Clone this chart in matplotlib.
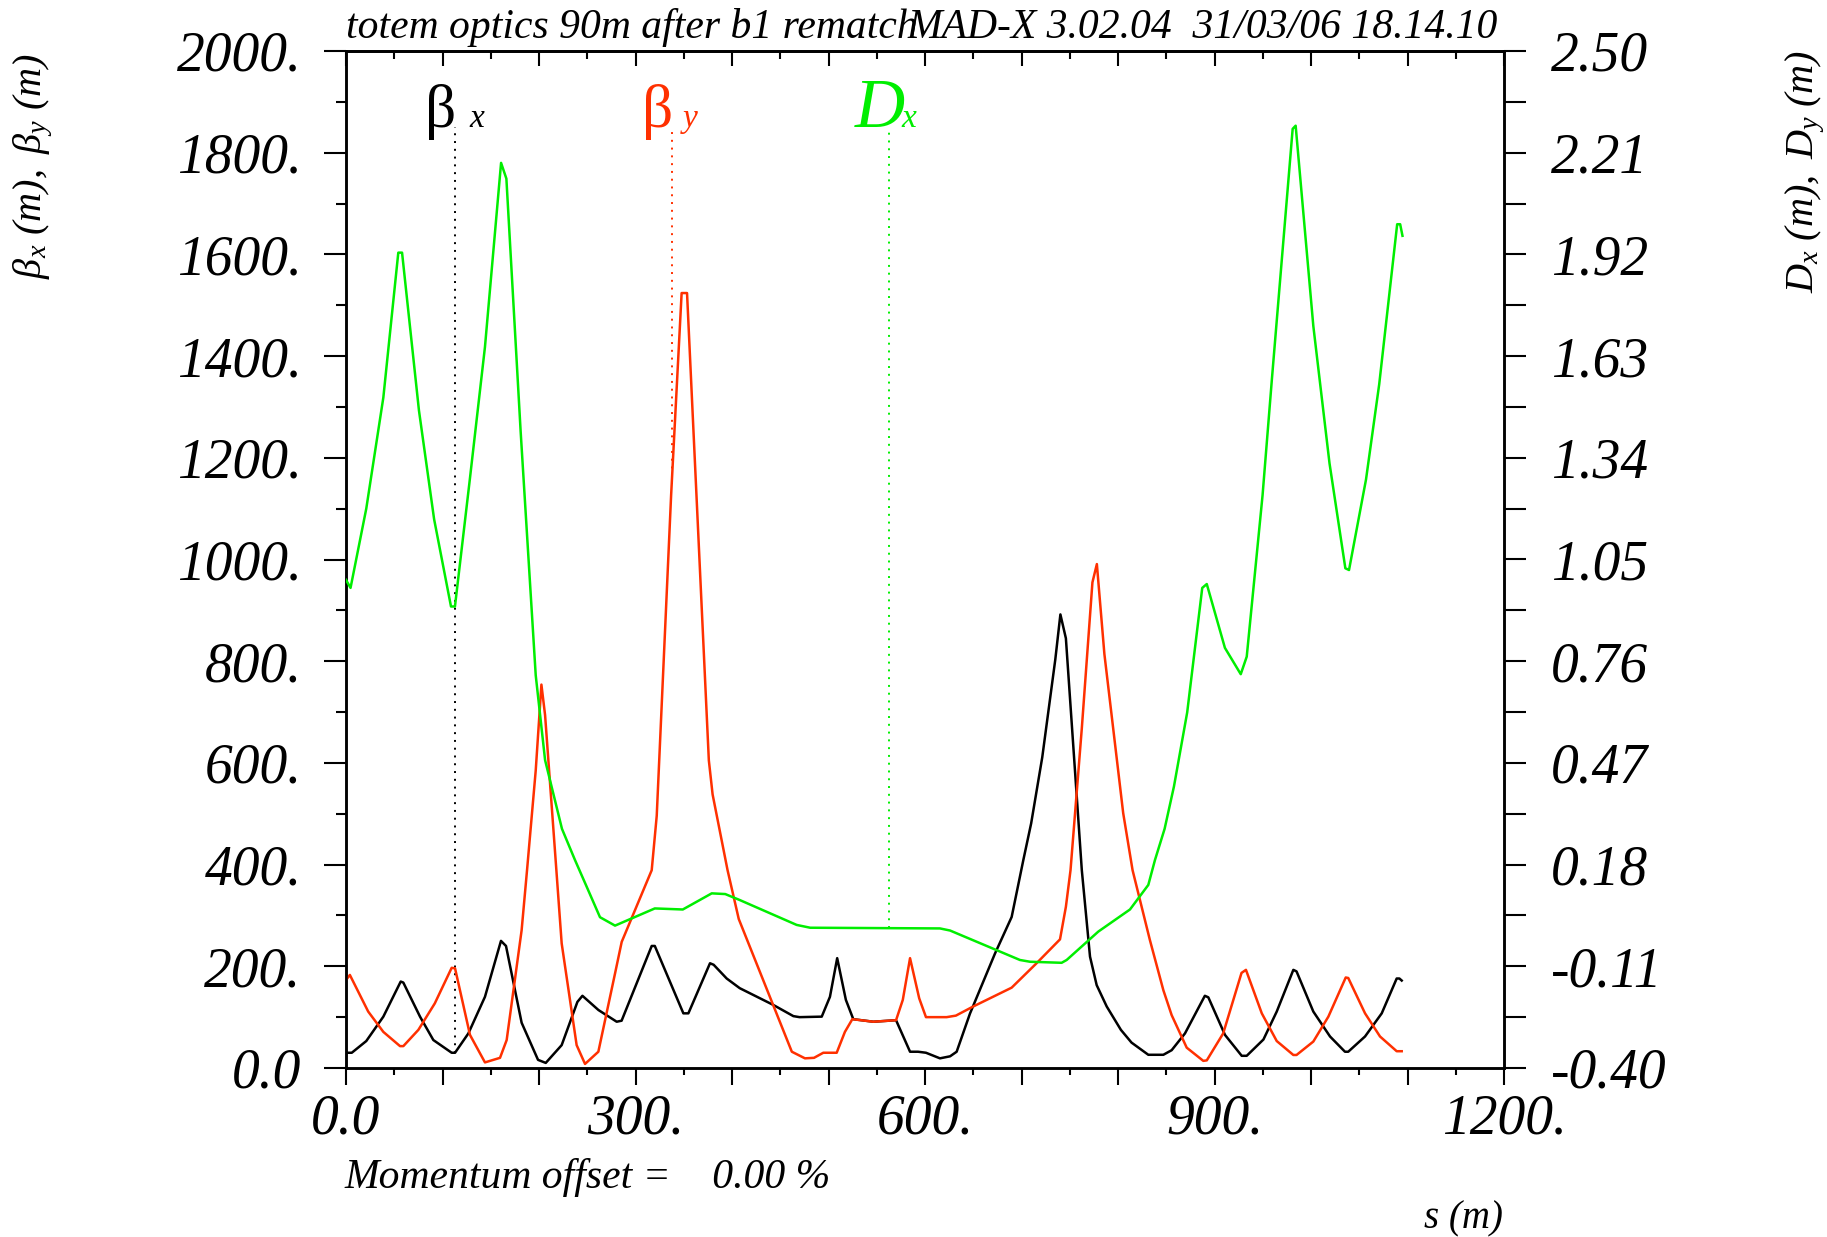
import numpy as np
import matplotlib
matplotlib.use("Agg")
import matplotlib.pyplot as plt
from matplotlib.ticker import MultipleLocator, FixedLocator, FuncFormatter
from matplotlib.transforms import offset_copy

# ---------------- data ----------------
s_bx = [0, 6, 21, 38.7, 56.7, 59.4, 76.7, 90.5, 109.5, 113, 126.8, 144, 160.6, 165.8, 182, 199, 207,
        223.5, 239.8, 245, 261.6, 280.5, 285.6, 316.8, 320, 349.6, 354.8, 377.2, 381, 394.5, 408,
        442.8, 463.6, 470, 493, 501.5, 509, 518, 525.7, 546.5, 570, 584.5, 592.8, 601, 615.5, 626,
        632.8, 646.6, 672.5, 689.8, 701.9, 710, 721.5, 735, 740.3, 746, 762.5, 771, 777.9, 788.3,
        803, 814, 831.4, 847, 855.6, 869.4, 890, 893.6, 910.9, 928.2, 933.4, 950.7, 964.5, 981.7,
        985, 1002.4, 1019.7, 1035.2, 1038.6, 1056, 1073.3, 1088.8, 1091.6, 1094]
betx = [30, 30, 53, 101, 170, 168, 101, 55, 30, 30, 68, 140, 250, 240, 89, 16, 10,
        45, 130, 142, 114, 91, 93, 240, 240, 107.5, 107.5, 206, 203, 176, 157,
        124, 102, 100, 101, 140, 216, 134, 96, 91, 94, 32, 32, 30, 19, 23,
        32, 107, 225, 297, 409, 481, 611, 803, 892, 845, 389, 219, 163, 121,
        75, 50, 26, 26, 35, 68, 142, 139, 65, 24, 24, 56, 111, 193,
        190, 111, 62, 32, 32, 62, 107.5, 176, 176, 172]

s_by = [0, 4, 23, 38.7, 56, 59.4, 75, 92, 109.5, 113, 128.5, 144, 159.6, 166.5, 182, 187.6, 196.6,
        202.5, 206.3, 218, 223.5, 239, 247.7, 261.5, 278.8, 285.7, 316.8, 322, 336.9, 347.8, 353.4,
        376, 379.9, 395.4, 407, 462, 475.6, 485, 494.6, 508.5, 517, 524.7, 546.5, 570, 577, 584.5,
        594, 601, 622.4, 632, 650, 689.8, 715.6, 739.9, 746, 750.8, 762.5, 773.5, 778.1, 785.9,
        805.4, 815.1, 833, 847, 855.6, 871.2, 888.4, 892, 909, 928, 932.6, 949, 964.5, 981.7, 985,
        1002.4, 1018, 1036, 1038.6, 1056, 1071.5, 1088.8, 1094]
bety = [173, 183, 111, 71, 43, 43, 75, 127, 197, 196, 65, 11, 20, 55, 271, 389, 585,
        754, 694, 389, 245, 45, 8, 32, 186, 248, 389, 496, 1126, 1524, 1524,
        605, 538, 389, 293, 32, 19, 20, 30, 30, 71, 96, 91, 94, 134, 216,
        137, 100, 100, 103, 121, 158, 206, 253, 317, 389, 668, 955, 991, 814,
        501, 389, 252, 153, 104, 40, 14, 15, 68, 187, 193, 107.5, 53, 25.6, 25.6,
        52, 101, 178, 177, 107.5, 62, 33, 33]

s_dx = [0, 4.7, 21, 38.7, 54.2, 58.1, 75.6, 91.3, 108.8, 112.9, 128.3, 144, 160.7, 166.2, 181,
        196.6, 206.3, 223.8, 237.3, 249.4, 263.2, 278.8, 320, 349, 379, 393, 408, 467, 481, 615.5,
        626, 698.4, 708.8, 741.6, 746.8, 779.6, 812.4, 831.4, 838.3, 848.3, 858, 871.7, 887.3, 892,
        910.8, 927.2, 933.4, 949.8, 959.5, 981, 984.1, 1002.4, 1019.2, 1035.6, 1039.4, 1057, 1070.7,
        1089.3, 1092.4, 1094.8]
dx = [0.992, 0.969, 1.195, 1.512, 1.925, 1.925, 1.475, 1.165, 0.916, 0.916, 1.278, 1.656, 2.181, 2.136, 1.414,
      0.720, 0.478, 0.282, 0.193, 0.117, 0.030, 0.006, 0.055, 0.052, 0.098, 0.096, 0.079, 0.008, 0.0, -0.002,
      -0.008, -0.092, -0.097, -0.100, -0.092, -0.011, 0.052, 0.122, 0.193, 0.282, 0.403, 0.614, 0.969, 0.98,
      0.798, 0.723, 0.773, 1.233, 1.565, 2.278, 2.287, 1.716, 1.324, 1.025, 1.02, 1.278, 1.55,
      2.006, 2.006, 1.973]

label_s = [112.5, 337.5, 562.5]          # positions of the curve labels
label_level = 1850                        # beta level of the label baseline
x_major_labels = [0, 300, 600, 900, 1200]
d_ticks = [-0.40, -0.11, 0.18, 0.47, 0.76, 1.05, 1.34, 1.63, 1.92, 2.21, 2.50]

B_MIN, B_MAX = 0, 2000
D_MIN, D_MAX = -0.40, 2.50

RED = "#ff3000"
GREEN = "#00ee00"

# ---------------- style ----------------
plt.rcParams["font.family"] = ["Liberation Serif", "DejaVu Serif"]
plt.rcParams["font.style"] = "italic"
plt.rcParams["mathtext.fontset"] = "custom"
plt.rcParams["mathtext.rm"] = "Liberation Serif"
plt.rcParams["mathtext.it"] = "Liberation Serif:italic"
plt.rcParams["mathtext.bf"] = "Liberation Serif:bold"

W, H = 1827, 1237
fig = plt.figure(figsize=(W / 100, H / 100), dpi=100)
L, R, T, B = 346, 1504, 51, 1068
ax = fig.add_axes([L / W, 1 - B / H, (R - L) / W, (B - T) / H])

LW = 1.8
ax.plot(s_bx, betx, color="black", lw=LW, zorder=3)
ax.plot(s_by, bety, color=RED, lw=LW, zorder=4)
ax.set_xlim(0, 1200)
ax.set_ylim(B_MIN, B_MAX)

ax2 = ax.twinx()
ax2.plot(s_dx, dx, color=GREEN, lw=LW, zorder=3)
ax2.set_ylim(D_MIN, D_MAX)

# ---------------- ticks ----------------
TICK_FS = 40
ax.xaxis.set_major_locator(MultipleLocator(100))
ax.xaxis.set_minor_locator(MultipleLocator(50))
ax.xaxis.set_major_formatter(FuncFormatter(
    lambda v, p: ("0.0" if abs(v) < 1e-9 else f"{v:.0f}.") if int(round(v)) in x_major_labels else ""))
ax.tick_params(axis="x", which="major", direction="out", length=12, width=1.5, pad=6,
               labelsize=TICK_FS, top=False)
ax.tick_params(axis="x", which="minor", direction="out", length=5, width=1.5, top=False)

ax.yaxis.set_major_locator(MultipleLocator(200))
ax.yaxis.set_minor_locator(MultipleLocator(100))
ax.yaxis.set_major_formatter(FuncFormatter(lambda v, p: "0.0" if abs(v) < 1e-9 else f"{v:.0f}."))
ax.tick_params(axis="y", which="major", direction="out", length=16, width=1.5, pad=16,
               labelsize=TICK_FS, right=False)
ax.tick_params(axis="y", which="minor", direction="out", length=7, width=1.5, right=False)

ax2.yaxis.set_major_locator(FixedLocator(d_ticks))
mids = [(a + b) / 2 for a, b in zip(d_ticks[:-1], d_ticks[1:])]
ax2.yaxis.set_minor_locator(FixedLocator(mids))
ax2.yaxis.set_major_formatter(FuncFormatter(lambda v, p: f"{v:.2f}"))
ax2.tick_params(axis="y", which="both", direction="out", length=16, width=1.5, pad=18,
                labelsize=TICK_FS)

sec = ax.secondary_xaxis("top")
sec.xaxis.set_major_locator(MultipleLocator(100))
sec.xaxis.set_minor_locator(MultipleLocator(50))
sec.tick_params(axis="x", which="major", direction="in", length=11, width=1.5,
                labeltop=False, labelbottom=False)
sec.tick_params(axis="x", which="minor", direction="in", length=6, width=1.5)
for a in (ax, ax2, sec):
    for sp in a.spines.values():
        sp.set_linewidth(1.8)

# ---------------- curve labels with dotted markers ----------------
dot = (0, (1, 3))
v_bx = np.interp(label_s[0], s_bx, betx)
v_by = np.interp(label_s[1], s_by, bety)
v_dx = np.interp(label_s[2], s_dx, dx)
d_level = D_MIN + (label_level - B_MIN) / (B_MAX - B_MIN) * (D_MAX - D_MIN)
ax.plot([label_s[0], label_s[0]], [v_bx, label_level], color="black", lw=1.4, ls=dot, zorder=2)
ax.plot([label_s[1], label_s[1]], [v_by, label_level], color=RED, lw=1.4, ls=dot, zorder=2)
ax2.plot([label_s[2], label_s[2]], [v_dx, d_level], color=GREEN, lw=1.4, ls=dot, zorder=2)


def place(axx, s, y, txt, color, dxpix, ha, size, style):
    tr = offset_copy(axx.transData, fig=fig, x=dxpix, y=0, units="dots")
    axx.text(s, y, txt, transform=tr, ha=ha, va="baseline", color=color,
             fontsize=size, fontstyle=style)


place(ax, label_s[0], label_level, "\u03b2", "black", 2, "right", 44, "normal")
place(ax, label_s[0], label_level, "x", "black", 15, "left", 24, "italic")
place(ax, label_s[1], label_level, "\u03b2", RED, 2, "right", 44, "normal")
place(ax, label_s[1], label_level, "y", RED, 11, "left", 24, "italic")
place(ax2, label_s[2], d_level, "D", GREEN, 16, "right", 50, "italic")
place(ax2, label_s[2], d_level, "x", GREEN, 13, "left", 24, "italic")

# ---------------- texts ----------------
fig.text(346 / W, 1 - 38 / H, "totem optics 90m after b1 rematch", ha="left", va="baseline",
         fontsize=30)
fig.text(1498 / W, 1 - 38 / H, "MAD-X 3.02.04  31/03/06 18.14.10", ha="right", va="baseline",
         fontsize=30)
fig.text(344 / W, 1 - 1188 / H, "Momentum offset =    0.00 %", ha="left", va="baseline",
         fontsize=30)
fig.text(1503 / W, 1 - 1228 / H, "s (m)", ha="right", va="baseline", fontsize=28)

fig.text(33 / W, 1 - 53 / H, r"$\mathrm{\beta}_{x}\ (m),\ \mathrm{\beta}_{y}\ (m)$",
         rotation=90, ha="center", va="top", fontsize=29)
fig.text(1805 / W, 1 - 50 / H, r"$D_{x}\ (m),\ D_{y}\ (m)$",
         rotation=90, ha="center", va="top", fontsize=29)

fig.savefig("out.png", dpi=100)
